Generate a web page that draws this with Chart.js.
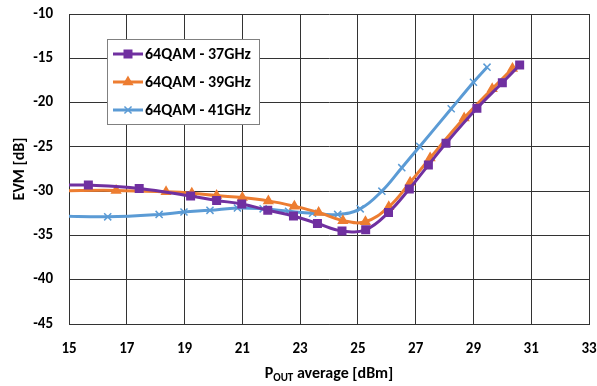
<!DOCTYPE html>
<html>
<head>
<meta charset="utf-8">
<script src="https://cdn.jsdelivr.net/npm/chart.js@4.4.0/dist/chart.umd.min.js"></script>
<style>
  html, body { margin: 0; padding: 0; background: #fff; overflow: hidden; }
  #wrap { width: 597px; height: 386px; position: relative; }
</style>
</head>
<body>
<div id="wrap"><canvas id="evmChart"></canvas></div>
<script>
const FONT = "Carlito, Lato, 'Liberation Sans', sans-serif";

const seriesNames = ["64QAM - 37GHz", "64QAM - 39GHz", "64QAM - 41GHz"];
const seriesColors = ["#7030A0", "#ED7D31", "#5B9BD5"];
const seriesMarkers = ["rect", "triangle", "crossRot"];

// Pout average [dBm] / EVM [dB]
const pout37 = [14.8, 15.67, 17.43, 19.21, 20.11, 20.98, 21.88, 22.77, 23.6, 24.45, 25.27, 26.06, 26.78, 27.44, 28.05, 29.12, 30.0, 30.6];
const evm37 = [-29.3, -29.32, -29.7, -30.55, -31.05, -31.45, -32.15, -32.8, -33.65, -34.5, -34.35, -32.4, -29.75, -27.06, -24.6, -20.65, -17.76, -15.76];

const pout39 = [14.7, 16.63, 18.36, 19.25, 20.11, 21.0, 21.9, 22.8, 23.64, 24.48, 25.26, 26.07, 26.81, 27.5, 28.68, 29.65, 30.35];
const evm39 = [-29.95, -29.92, -30.08, -30.23, -30.5, -30.73, -31.1, -31.7, -32.4, -33.33, -33.45, -31.77, -29.0, -26.25, -21.75, -18.45, -16.15];

const pout41 = [14.7, 16.34, 18.12, 18.98, 19.88, 20.83, 21.72, 22.6, 23.43, 24.3, 25.08, 25.83, 26.52, 27.14, 28.23, 29.0, 29.47];
const evm41 = [-32.8, -32.9, -32.63, -32.35, -32.17, -31.9, -32.0, -32.27, -32.5, -32.63, -32.0, -30.0, -27.35, -24.95, -20.7, -17.7, -16.0];

const xTicks = [15, 17, 19, 21, 23, 25, 27, 29, 31, 33];
const yTicks = [-10, -15, -20, -25, -30, -35, -40, -45];

const toPoints = (xs, ys) => xs.map((x, i) => ({ x, y: ys[i] }));
const seriesData = [toPoints(pout37, evm37), toPoints(pout39, evm39), toPoints(pout41, evm41)];

const markerRadius = [5.3, 5, 5];

const xTitle = {
  id: "xTitle",
  afterDraw(chart) {
    const { ctx, chartArea } = chart;
    const big = "bold 16px " + FONT;
    const small = "bold 11px " + FONT;
    ctx.save();
    ctx.fillStyle = "#000";
    ctx.textBaseline = "alphabetic";
    ctx.font = big;
    const wP = ctx.measureText("P").width;
    const wRest = ctx.measureText(" average [dBm]").width;
    ctx.font = small;
    const wSub = ctx.measureText("OUT").width;
    let x = (chartArea.left + chartArea.right) / 2 - (wP + wSub + wRest) / 2;
    const y = 378;
    ctx.font = big;
    ctx.fillText("P", x, y);
    x += wP;
    ctx.font = small;
    ctx.fillText("OUT", x, y + 3);
    x += wSub;
    ctx.font = big;
    ctx.fillText(" average [dBm]", x, y);
    ctx.restore();
  }
};

const legendBox = {
  id: "legendBox",
  afterDraw(chart) {
    const ctx = chart.ctx;
    ctx.save();
    ctx.fillStyle = "#fff";
    ctx.fillRect(107.5, 39.5, 152, 85);
    ctx.strokeStyle = "#808080";
    ctx.lineWidth = 1;
    ctx.strokeRect(107.5, 39.5, 152, 85);
    seriesNames.forEach((name, i) => {
      const y = 54 + i * 28;
      ctx.strokeStyle = seriesColors[i];
      ctx.fillStyle = seriesColors[i];
      ctx.lineWidth = 3;
      ctx.beginPath();
      ctx.moveTo(113, y);
      ctx.lineTo(143, y);
      ctx.stroke();
      ctx.lineWidth = 1.5;
      Chart.helpers.drawPoint(ctx, { pointStyle: seriesMarkers[i], radius: markerRadius[i], borderWidth: 1.5, rotation: 0 }, 128, y);
      ctx.fillStyle = "#000";
      ctx.font = "bold 16px " + FONT;
      ctx.textBaseline = "middle";
      ctx.fillText(name, 145, y + 1);
    });
    ctx.restore();
  }
};

new Chart(document.getElementById("evmChart"), {
  type: "line",
  data: {
    datasets: seriesData.map((pts, i) => ({
      label: seriesNames[i],
      data: pts,
      borderColor: seriesColors[i],
      backgroundColor: seriesColors[i],
      borderWidth: 3,
      tension: 0.4,
      pointStyle: seriesMarkers[i],
      pointRadius: markerRadius[i],
      pointBorderWidth: 1.5,
      pointBorderColor: seriesColors[i],
      pointBackgroundColor: seriesColors[i],
      fill: false
    }))
  },
  options: {
    responsive: true,
    maintainAspectRatio: false,
    animation: false,
    layout: { padding: { left: 0, right: 8, top: 14, bottom: 0 } },
    plugins: {
      legend: { display: false },
      tooltip: { enabled: false }
    },
    scales: {
      x: {
        type: "linear",
        min: 15,
        max: 33,
        afterBuildTicks: (s) => { s.ticks = xTicks.map((v) => ({ value: v })); },
        afterFit: (s) => { s.height = 62; s.paddingLeft = 0; s.paddingRight = 0; },
        ticks: { color: "#000", font: { family: FONT, size: 15, weight: "bold" }, padding: 16 },
        grid: { color: "#333", lineWidth: 1, drawTicks: false },
        border: { color: "#333", width: 1 }
      },
      y: {
        min: -45,
        max: -10,
        afterBuildTicks: (s) => { s.ticks = yTicks.map((v) => ({ value: v })); },
        afterFit: (s) => { s.width = 69; s.paddingTop = 0; s.paddingBottom = 0; },
        ticks: { color: "#000", font: { family: FONT, size: 15, weight: "bold" }, padding: 16 },
        grid: { color: "#333", lineWidth: 1, drawTicks: false },
        border: { color: "#333", width: 1 },
        title: { display: true, text: "EVM [dB]", color: "#000", font: { family: FONT, size: 16, weight: "bold" }, padding: { top: 10, bottom: 0 } }
      }
    }
  },
  plugins: [xTitle, legendBox]
});
</script>
</body>
</html>
